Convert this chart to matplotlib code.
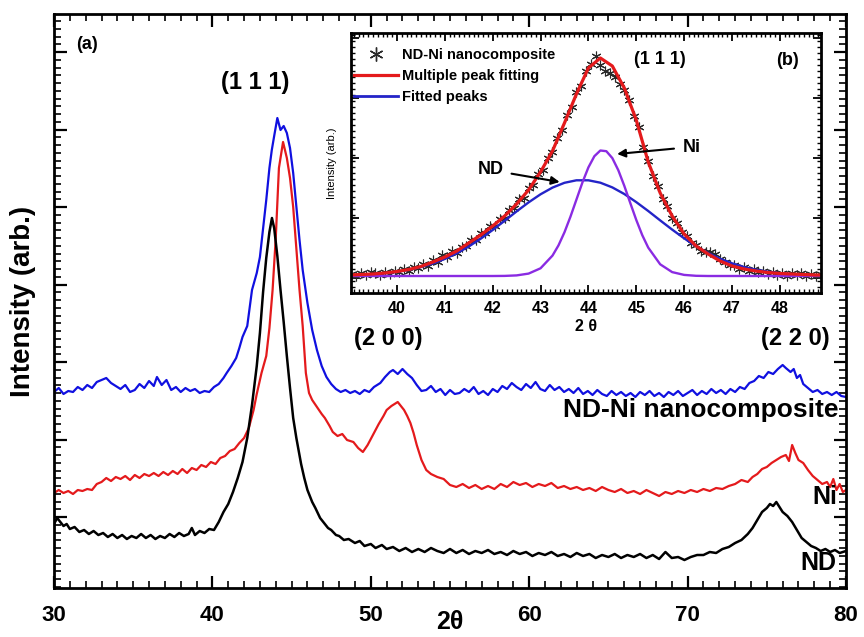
import numpy as np
import matplotlib
matplotlib.use('Agg')
import matplotlib.pyplot as plt
from matplotlib.ticker import MultipleLocator, FixedLocator, NullFormatter
from matplotlib.lines import Line2D

plt.rcParams['font.family'] = ['Liberation Sans', 'DejaVu Sans']
plt.rcParams['font.weight'] = 'bold'

# ---- main panel (a): XRD patterns, intensity in arb. units ----
nd_x = [30.0, 30.2, 30.4, 30.6, 30.8, 31.0, 31.3, 31.6, 31.9, 32.2, 32.5, 32.8, 33.1, 33.4, 33.7,
        34.0, 34.3, 34.6, 34.9, 35.2, 35.5, 35.8, 36.1, 36.4, 36.7, 37.0, 37.3, 37.6, 37.9, 38.2,
        38.5, 38.7, 38.9, 39.2, 39.5, 39.8, 40.1, 40.4, 40.7, 41.0, 41.3, 41.6, 41.9, 42.2, 42.5,
        42.8, 43.0, 43.2, 43.4, 43.6, 43.76, 43.9, 44.1, 44.3, 44.5, 44.7, 44.9, 45.1, 45.3, 45.6,
        45.8, 46.0, 46.3, 46.5, 46.8, 47.0, 47.3, 47.5, 47.8, 48.0, 48.3, 48.6, 49.0, 49.3, 49.6,
        50.0, 50.3, 50.7, 51.0, 51.4, 51.8, 52.2, 52.6, 53.0, 53.4, 53.8, 54.2, 54.6, 55.0, 55.4,
        55.8, 56.2, 56.6, 57.0, 57.4, 57.8, 58.2, 58.6, 59.0, 59.4, 59.8, 60.2, 60.6, 61.0, 61.4,
        61.8, 62.2, 62.6, 63.0, 63.4, 63.8, 64.2, 64.6, 65.0, 65.4, 65.8, 66.2, 66.6, 67.0, 67.4,
        67.8, 68.2, 68.6, 69.0, 69.4, 69.8, 70.2, 70.6, 71.0, 71.4, 71.8, 72.2, 72.6, 73.0, 73.4,
        73.8, 74.1, 74.4, 74.7, 75.0, 75.2, 75.4, 75.6, 75.8, 76.0, 76.3, 76.6, 76.9, 77.2, 77.5,
        77.8, 78.1, 78.4, 78.7, 79.0, 79.3, 79.6, 80.0]
nd_y = [64, 70, 66, 62, 64, 59, 61, 56, 58, 54, 57, 53, 55, 51, 54,
        50, 53, 49, 52, 50, 54, 50, 53, 49, 52, 50, 54, 51, 55, 52,
        54, 60, 53, 57, 55, 59, 58, 66, 76, 84, 96, 110, 126, 150, 183,
        222, 255, 296, 330, 356, 370, 360, 332, 298, 266, 232, 200, 170, 150, 124,
        110, 98, 86, 80, 70, 66, 60, 58, 53, 52, 48, 49, 45, 47, 42,
        44, 40, 43, 39, 41, 37, 40, 36, 39, 36, 40, 37, 35, 39, 35,
        38, 34, 37, 35, 38, 34, 36, 33, 37, 34, 36, 32, 35, 33, 36,
        32, 34, 31, 35, 32, 34, 30, 33, 31, 34, 30, 33, 31, 34, 30,
        33, 29, 36, 30, 31, 28, 31, 33, 33, 36, 35, 39, 41, 45, 48,
        54, 60, 68, 76, 80, 84, 82, 86, 81, 76, 72, 66, 58, 50, 46,
        42, 40, 37, 39, 36, 38, 35, 37]

ni_x = [30.0, 30.3, 30.6, 30.9, 31.2, 31.5, 31.8, 32.1, 32.4, 32.7, 33.0, 33.3, 33.6, 33.9, 34.2,
        34.5, 34.8, 35.1, 35.4, 35.7, 36.0, 36.3, 36.6, 36.9, 37.2, 37.5, 37.8, 38.1, 38.4, 38.7,
        39.0, 39.3, 39.6, 39.9, 40.2, 40.5, 40.8, 41.1, 41.4, 41.7, 42.0, 42.3, 42.6, 42.8, 43.1,
        43.4, 43.6, 43.8, 44.0, 44.2, 44.46, 44.7, 44.9, 45.1, 45.3, 45.5, 45.7, 45.9, 46.1, 46.3,
        46.6, 46.9, 47.1, 47.4, 47.6, 47.9, 48.2, 48.5, 48.9, 49.2, 49.5, 49.8, 50.1, 50.5, 50.8,
        51.0, 51.3, 51.5, 51.7, 51.9, 52.1, 52.3, 52.5, 52.7, 52.9, 53.2, 53.5, 53.8, 54.2, 54.6,
        55.0, 55.4, 55.8, 56.2, 56.6, 57.0, 57.4, 57.8, 58.2, 58.6, 59.0, 59.4, 59.8, 60.2, 60.6,
        61.0, 61.4, 61.8, 62.2, 62.6, 63.0, 63.4, 63.8, 64.2, 64.6, 65.0, 65.4, 65.8, 66.2, 66.6,
        67.0, 67.4, 67.8, 68.2, 68.6, 69.0, 69.4, 69.8, 70.2, 70.6, 71.0, 71.4, 71.8, 72.2, 72.6,
        73.0, 73.4, 73.8, 74.1, 74.4, 74.7, 75.0, 75.3, 75.6, 75.9, 76.2, 76.4, 76.6, 76.8, 77.0,
        77.3, 77.6, 77.9, 78.2, 78.5, 78.8, 79.0, 79.2, 79.4, 79.6, 79.8, 80.0]
ni_y = [95, 98, 95, 97, 94, 98, 97, 99, 98, 104, 106, 110, 107, 111, 109,
        112, 108, 113, 110, 114, 112, 115, 112, 116, 113, 117, 114, 119, 115, 120,
        118, 123, 121, 126, 124, 130, 132, 137, 139, 145, 150, 160, 178, 194, 215,
        232, 260, 298, 350, 420, 446, 430, 410, 381, 340, 298, 262, 215, 195, 188,
        181, 174, 170, 162, 156, 152, 154, 148, 146, 140, 136, 143, 152, 164, 172,
        178, 182, 184, 186, 182, 178, 172, 165, 155, 143, 128, 118, 114, 111, 109,
        103, 101, 104, 100, 103, 99, 102, 99, 104, 101, 106, 103, 105, 101, 104,
        102, 105, 100, 102, 99, 101, 98, 100, 97, 101, 98, 96, 99, 95, 97,
        94, 98, 95, 92, 96, 94, 97, 95, 98, 96, 99, 97, 100, 99, 102,
        104, 108, 106, 111, 114, 119, 121, 125, 128, 131, 133, 127, 143, 135, 128,
        125, 118, 112, 108, 104, 106, 101, 109, 98, 104, 96, 98]

comp_x = [30.0, 30.3, 30.6, 30.9, 31.2, 31.5, 31.8, 32.1, 32.4, 32.7, 33.0, 33.3, 33.6, 33.9, 34.2,
          34.5, 34.8, 35.1, 35.4, 35.7, 36.0, 36.3, 36.5, 36.8, 37.1, 37.4, 37.7, 38.0, 38.3, 38.6,
          38.9, 39.2, 39.5, 39.8, 40.1, 40.4, 40.7, 40.9, 41.2, 41.5, 41.7, 41.9, 42.2, 42.5, 42.8,
          43.0, 43.2, 43.4, 43.6, 43.75, 43.9, 44.1, 44.3, 44.5, 44.7, 44.9, 45.1, 45.3, 45.5, 45.7,
          46.0, 46.3, 46.6, 46.9, 47.2, 47.5, 47.8, 48.1, 48.4, 48.7, 49.0, 49.3, 49.6, 49.9, 50.2,
          50.6, 50.9, 51.2, 51.4, 51.7, 52.0, 52.3, 52.6, 52.9, 53.2, 53.5, 53.8, 54.1, 54.4, 54.7,
          55.0, 55.3, 55.6, 55.9, 56.2, 56.5, 56.8, 57.1, 57.4, 57.7, 58.0, 58.3, 58.6, 58.9, 59.2,
          59.5, 59.8, 60.1, 60.4, 60.7, 61.0, 61.3, 61.6, 61.9, 62.2, 62.5, 62.8, 63.1, 63.4, 63.7,
          64.0, 64.3, 64.6, 64.9, 65.2, 65.5, 65.8, 66.1, 66.4, 66.7, 67.0, 67.3, 67.6, 67.9, 68.2,
          68.5, 68.8, 69.1, 69.4, 69.7, 70.0, 70.3, 70.6, 70.9, 71.2, 71.5, 71.8, 72.1, 72.4, 72.7,
          73.0, 73.3, 73.6, 73.9, 74.2, 74.5, 74.8, 75.1, 75.4, 75.7, 76.0, 76.2, 76.5, 76.7, 76.9,
          77.1, 77.3, 77.6, 77.9, 78.2, 78.5, 78.8, 79.1, 79.4, 79.7, 80.0]
comp_y = [196, 200, 194, 197, 196, 201, 198, 203, 200, 206, 208, 210, 205, 202, 199,
          203, 196, 198, 204, 200, 207, 202, 211, 203, 208, 198, 201, 196, 200, 197,
          199, 195, 197, 196, 201, 204, 210, 215, 222, 230, 240, 251, 262, 298, 315,
          331, 360, 388, 420, 438, 452, 470, 458, 462, 455, 440, 415, 382, 348, 318,
          285, 258, 238, 222, 211, 204, 199, 196, 198, 195, 197, 194, 198, 196, 201,
          205, 211, 216, 218, 214, 219, 214, 210, 203, 197, 198, 202, 196, 199, 193,
          198, 194, 195, 199, 196, 201, 194, 197, 193, 199, 196, 202, 199, 205, 201,
          198, 204, 200, 206, 199, 197, 203, 198, 201, 196, 199, 195, 200, 194, 197,
          193, 198, 194, 192, 197, 193, 196, 192, 195, 191, 196, 193, 197, 192, 195,
          191, 196, 193, 197, 192, 195, 198, 193, 197, 194, 199, 195, 198, 194, 199,
          196, 201, 199, 205, 207, 212, 210, 216, 214, 219, 223, 220, 216, 219, 210,
          213, 204, 200, 196, 198, 194, 196, 193, 196, 192, 191]

# ---- inset (b): peak fitting of the (1 1 1) reflection ----
fit_x = [39.0, 39.25, 39.5, 39.75, 40.0, 40.25, 40.5, 40.75, 41.0, 41.25, 41.5, 41.75, 42.0, 42.25,
         42.5, 42.75, 43.0, 43.25, 43.5, 43.75, 44.0, 44.25, 44.5, 44.75, 45.0, 45.25, 45.5, 45.75,
         46.0, 46.25, 46.5, 46.75, 47.0, 47.25, 47.5, 47.75, 48.0, 48.25, 48.5, 48.75, 49.0]
fit_total = [1, 1.5, 2, 3, 4.5, 6.5, 9.5, 14, 19, 25, 33, 41, 50, 60,
             72, 86, 104, 125, 153, 182, 208, 218, 210, 188, 156, 114, 83, 60,
             42, 30, 22, 15, 10, 7, 5, 3.5, 2.5, 2, 1.5, 1, 1]
peak_nd = [0.7, 1.1, 1.8, 2.8, 4.2, 6.2, 8.9, 12.5, 17.1, 22.7, 29.5, 37.3, 46.0, 55.2,
           64.6, 73.6, 81.7, 88.4, 93.2, 95.7, 95.7, 93.3, 88.6, 82.0, 73.9, 65.0, 55.6, 46.4,
           37.7, 29.8, 23.0, 17.3, 12.7, 9.0, 6.3, 4.3, 2.8, 1.8, 1.1, 0.7, 0.4]
ni_fit_x = [39.0, 42.0, 42.25, 42.5, 42.75, 43.0, 43.25, 43.375, 43.5, 43.625, 43.75, 43.875,
            44.0, 44.125, 44.25, 44.375, 44.5, 44.625, 44.75, 44.875, 45.0, 45.125, 45.25,
            45.5, 45.75, 46.0, 46.25, 46.5, 49.0]
peak_ni = [0, 0, 0.1, 0.6, 2.4, 7.7, 20.4, 30.6, 43.7, 59.3, 76.4, 93.5,
           108.6, 119.8, 125.5, 124.8, 117.9, 105.8, 90.2, 73.0, 56.1, 40.9, 28.4,
           11.7, 3.9, 1.1, 0.2, 0, 0]

data_x = [39.05, 39.15, 39.25, 39.35, 39.45, 39.55, 39.65, 39.75, 39.85, 39.95,
          40.05, 40.15, 40.25, 40.35, 40.45, 40.55, 40.65, 40.75, 40.85, 40.95,
          41.05, 41.15, 41.25, 41.35, 41.45, 41.55, 41.65, 41.75, 41.85, 41.95,
          42.05, 42.15, 42.25, 42.35, 42.45, 42.55, 42.65, 42.75, 42.85, 42.95,
          43.05, 43.15, 43.25, 43.35, 43.45, 43.55, 43.65, 43.75, 43.85, 43.95,
          44.05, 44.15, 44.25, 44.35, 44.45, 44.55, 44.65, 44.75, 44.85, 44.95,
          45.05, 45.15, 45.25, 45.35, 45.45, 45.55, 45.65, 45.75, 45.85, 45.95,
          46.05, 46.15, 46.25, 46.35, 46.45, 46.55, 46.65, 46.75, 46.85, 46.95,
          47.05, 47.15, 47.25, 47.35, 47.45, 47.55, 47.65, 47.75, 47.85, 47.95,
          48.05, 48.15, 48.25, 48.35, 48.45, 48.55, 48.65, 48.75, 48.85]
data_y = [2, 0, 3, 1, 4, 3, 1, 4, 2, 5,
          4, 7, 5, 9, 8, 12, 10, 16, 14, 21,
          19, 25, 23, 29, 30, 36, 36, 43, 43, 50,
          50, 57, 58, 66, 68, 77, 78, 88, 91, 102,
          106, 118, 124, 138, 146, 161, 169, 184, 190, 205,
          212, 220, 211, 205, 203, 199, 192, 186, 176, 160,
          149, 129, 115, 100, 90, 77, 70, 58, 53, 44,
          40, 33, 31, 25, 24, 24, 22, 17, 14, 11,
          11, 7, 9, 5, 7, 4, 5, 2, 4, 1,
          3, 0, 3, 1, 3, 0, 2, 0, 2]

C_BLUE = '#1010e0'
C_RED = '#e41a1c'
C_PURPLE = '#8a2be2'
C_FITBLUE = '#2424c8'

fig = plt.figure(figsize=(8.64, 6.37), dpi=100)
ax = fig.add_axes([54/864, 49/637, 792/864, 574/637])

ax.plot(comp_x, comp_y, color=C_BLUE, lw=1.6)
ax.plot(ni_x, ni_y, color=C_RED, lw=1.6)
ax.plot(nd_x, nd_y, color='black', lw=1.8)

ax.set_xlim(30, 80)
ax.set_ylim(0, 574)
ax.xaxis.set_major_locator(MultipleLocator(10))
ax.xaxis.set_minor_locator(MultipleLocator(1))
ax.yaxis.set_major_locator(FixedLocator([71 + 77.5*k for k in range(7)]))
ax.yaxis.set_minor_locator(FixedLocator([-6.5 + 7.75*k for k in range(76)]))
ax.yaxis.set_major_formatter(NullFormatter())
ax.tick_params(which='both', direction='in', top=True, right=True)
ax.tick_params(which='major', length=9, width=1.6, labelsize=16, pad=12)
ax.tick_params(which='minor', length=5, width=1.2)
for sp in ax.spines.values():
    sp.set_linewidth(2)
for lab in ax.get_xticklabels():
    lab.set_fontweight('bold')

ax.set_ylabel('Intensity (arb.)', fontsize=20, fontweight='bold', labelpad=1)
ax.set_xlabel('2θ', fontsize=18, fontweight='bold', labelpad=-11)

ax.text(0.042, 0.946, '(a)', transform=ax.transAxes, fontsize=13, fontweight='bold', ha='center', va='center')
ax.text(42.7, 506, '(1 1 1)', fontsize=17, fontweight='bold', ha='center', va='center')
ax.text(51.1, 250, '(2 0 0)', fontsize=17, fontweight='bold', ha='center', va='center')
ax.text(76.8, 250, '(2 2 0)', fontsize=17, fontweight='bold', ha='center', va='center')
ax.text(79.5, 178, 'ND-Ni nanocomposite', fontsize=19, fontweight='bold', ha='right', va='center')
ax.text(79.45, 91, 'Ni', fontsize=18, fontweight='bold', ha='right', va='center')
ax.text(79.4, 25, 'ND', fontsize=18, fontweight='bold', ha='right', va='center')

# inset
ax2 = fig.add_axes([351/864, 344/637, 470/864, 260/637])
ax2.plot(data_x, data_y, linestyle='none', marker=(6, 2, 0), markersize=7, mew=0.8,
         color='#2a2a2a')
ax2.plot(fit_x, peak_nd, color=C_FITBLUE, lw=1.7)
ax2.plot(ni_fit_x, peak_ni, color=C_PURPLE, lw=1.7)
ax2.plot(fit_x, fit_total, color=C_RED, lw=2.3)

ax2.set_xlim(39.04, 48.86)
ax2.set_ylim(-17, 243)
ax2.xaxis.set_major_locator(MultipleLocator(1))
ax2.xaxis.set_minor_locator(MultipleLocator(0.1))
ax2.yaxis.set_major_locator(FixedLocator([-2 + 60*k for k in range(5)]))
ax2.yaxis.set_minor_locator(FixedLocator([-17 + 6*k for k in range(45)]))
ax2.yaxis.set_major_formatter(NullFormatter())
ax2.tick_params(which='both', direction='in', top=True, right=True)
ax2.tick_params(which='major', length=6, width=1.3, labelsize=11.5, pad=6)
ax2.tick_params(which='minor', length=3, width=1.0)
for sp in ax2.spines.values():
    sp.set_linewidth(2)
for lab in ax2.get_xticklabels():
    lab.set_fontweight('bold')
ax2.set_xlabel('2 θ', fontsize=11.5, fontweight='bold', labelpad=2)
ax2.set_ylabel('Intensity (arb.)', fontsize=8, fontweight='normal', labelpad=4)

handles = [Line2D([], [], linestyle='none', marker=(6, 2, 0), markersize=10, mew=1.0, color='#2a2a2a'),
           Line2D([], [], color=C_RED, lw=2.3),
           Line2D([], [], color=C_FITBLUE, lw=2.0)]
ax2.legend(handles, ['ND-Ni nanocomposite', 'Multiple peak fitting', 'Fitted peaks'],
           loc='upper left', bbox_to_anchor=(0.0, 0.955), frameon=False,
           prop={'weight': 'bold', 'size': 10.5},
           handlelength=3.0, handletextpad=0.3, labelspacing=0.5,
           borderaxespad=0.0, borderpad=0.2)

ax2.text(45.49, 216, '(1 1 1)', fontsize=13, fontweight='bold', ha='center', va='center')
ax2.text(0.928, 0.896, '(b)', transform=ax2.transAxes, fontsize=13, fontweight='bold', ha='center', va='center')
ax2.annotate('ND', xy=(43.4, 94), xytext=(41.95, 106), fontsize=13, fontweight='bold',
             ha='center', va='center',
             arrowprops=dict(arrowstyle='-|>', color='black', lw=1.5, mutation_scale=12, shrinkA=4, shrinkB=0))
ax2.annotate('Ni', xy=(44.6, 122), xytext=(46.15, 129), fontsize=13, fontweight='bold',
             ha='center', va='center',
             arrowprops=dict(arrowstyle='-|>', color='black', lw=1.5, mutation_scale=12, shrinkA=4, shrinkB=0))

fig.savefig('out.png', dpi=100)
